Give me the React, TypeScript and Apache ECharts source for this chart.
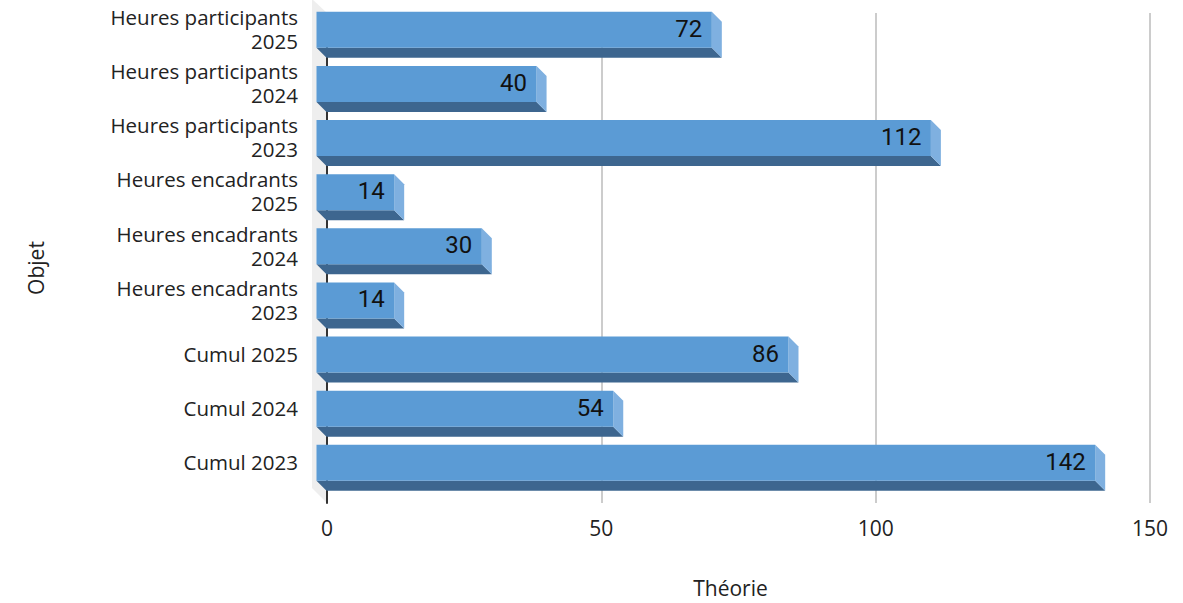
import React, { useEffect, useRef } from "react";
import * as echarts from "echarts";

const categories = [
  "Cumul 2023",
  "Cumul 2024",
  "Cumul 2025",
  "Heures encadrants\n2023",
  "Heures encadrants\n2024",
  "Heures encadrants\n2025",
  "Heures participants\n2023",
  "Heures participants\n2024",
  "Heures participants\n2025",
];
const values = [142, 54, 86, 14, 30, 14, 112, 40, 72];
const xName = "Théorie";
const yName = "Objet";

const FRONT = "#5B9BD5";
const SIDE = "#7FB0E0";
const BOTTOM = "#3D668F";
const LABEL_FONT = "'Open Sans'";

export default function App() {
  const ref = useRef<HTMLDivElement>(null);
  useEffect(() => {
    document.body.style.margin = "0";
    const chart = echarts.init(ref.current!, undefined, { renderer: "svg" });
    const renderItem = (_p: any, api: any) => {
      const v = api.value(0);
      const [x0, c] = api.coord([0, api.value(1)]);
      const [x1] = api.coord([v, api.value(1)]);
      const d = 10;
      const top = c - 31.2;
      const h = 36;
      const l = x0 - d - 1;
      const r = x1 - d;
      return {
        type: "group",
        children: [
          {
            type: "polygon",
            shape: { points: [[l, top + h], [r, top + h], [r + d, top + h + d], [l + d, top + h + d]] },
            style: { fill: BOTTOM },
          },
          {
            type: "polygon",
            shape: { points: [[r, top], [r + d, top + d], [r + d, top + h + d], [r, top + h]] },
            style: { fill: SIDE },
          },
          { type: "rect", shape: { x: l, y: top, width: r - l, height: h }, style: { fill: FRONT } },
          {
            type: "text",
            x: r - 9.5,
            y: top + h / 2 - 1,
            style: {
              text: String(v),
              fill: "#111",
              font: "24px Roboto",
              align: "right",
              verticalAlign: "middle",
            },
          },
        ],
      };
    };
    chart.setOption({
      animation: false,
      grid: [
        { left: 327.5, width: 821.5, top: 16, bottom: 100 },
        { left: 327, right: 33, top: 13, bottom: 100 },
        { left: 327, right: 33, top: 2, bottom: 114 },
      ],
      xAxis: [
        { type: "value", gridIndex: 0, min: 0, max: 150, interval: 50, show: false },
        {
          type: "value",
          gridIndex: 1,
          min: 0,
          max: 150,
          interval: 50,
          position: "bottom",
          axisLine: { show: false },
          axisTick: { show: false },
          splitLine: { show: true, lineStyle: { color: "#CCCCCC", width: 2 } },
          axisLabel: { color: "#222", fontFamily: LABEL_FONT, fontSize: 21, margin: 14 },
          name: xName,
          nameLocation: "middle",
          nameGap: 74,
          nameTextStyle: { color: "#222", fontFamily: LABEL_FONT, fontSize: 21, padding: [0, 16, 0, 0] },
        },
        { type: "value", gridIndex: 2, min: 0, max: 150, interval: 50, show: false },
      ],
      yAxis: [
        { type: "category", gridIndex: 0, data: categories, show: false },
        {
          type: "value",
          gridIndex: 1,
          min: 0,
          max: 1,
          position: "left",
          axisLine: { show: true, lineStyle: { color: "#333", width: 2 } },
          axisTick: { show: false },
          axisLabel: { show: false },
          splitLine: { show: false },
          name: yName,
          nameLocation: "middle",
          nameGap: 281,
          nameTextStyle: { color: "#222", fontFamily: LABEL_FONT, fontSize: 21, padding: [0, 20, 0, 0] },
        },
        {
          type: "category",
          gridIndex: 2,
          data: categories,
          axisLine: { show: false },
          axisTick: { show: false },
          axisLabel: {
            interval: 0,
            color: "#222",
            fontFamily: LABEL_FONT,
            fontSize: 20.5,
            lineHeight: 24,
            margin: 29,
            align: "right",
          },
        },
      ],
      graphic: [
        {
          type: "polygon",
          z: -1,
          shape: { points: [[312, -1], [327, 13], [327, 503], [312, 488]] },
          style: { fill: "#EEEEEE" },
        },
      ],
      series: [
        {
          type: "custom",
          xAxisIndex: 0,
          yAxisIndex: 0,
          clip: false,
          z: 5,
          data: values.map((v, i) => [v, i]),
          encode: { x: 0, y: 1 },
          renderItem,
        },
      ],
    });
    return () => chart.dispose();
  }, []);
  return <div ref={ref} style={{ width: 1183, height: 603 }} />;
}
